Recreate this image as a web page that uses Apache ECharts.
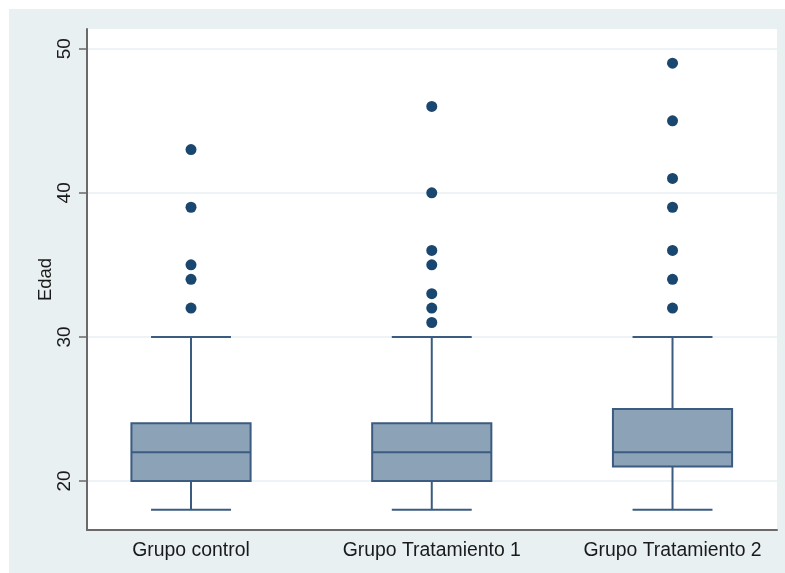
<!DOCTYPE html>
<html>
<head>
<meta charset="utf-8">
<script src="https://cdn.jsdelivr.net/npm/echarts@6/dist/echarts.min.js"></script>
<style>
  html, body { margin: 0; padding: 0; background: #ffffff; }
  #frame { position: absolute; left: 9px; top: 9px; right: 0; bottom: 0; background: #e8f0f2; }
  #chart { position: absolute; left: 0; top: 0; width: 785px; height: 573px; }
</style>
</head>
<body>
<div id="frame"></div>
<div id="chart"></div>
<script>
// Age (Edad) distribution per study group
const categories = ['Grupo control', 'Grupo Tratamiento 1', 'Grupo Tratamiento 2'];
// five-number summaries: [min whisker, Q1, median, Q3, max whisker]
const boxStats = [
  [18, 20, 22, 24, 30],
  [18, 20, 22, 24, 30],
  [18, 21, 22, 25, 30]
];
// points beyond the whiskers
const outliers = [
  [32, 34, 35, 39, 43],
  [31, 32, 33, 35, 36, 40, 46],
  [32, 34, 36, 39, 41, 45, 49]
];
const yTicks = [20, 30, 40, 50];

const navy = '#1a476f';
const boxLine = '#3b5c80';
const boxFill = '#8ca3b7';
const BOX_W = 0.495;   // box width in category units
const CAP_W = 0.332;   // whisker cap width in category units

const boxData = boxStats.map((s, i) => [i + 1, ...s]);
const outlierData = [];
outliers.forEach((arr, i) => arr.forEach(v => outlierData.push([i + 1, v])));

const chart = echarts.init(document.getElementById('chart'), null, { renderer: 'canvas' });

function renderBox(params, api) {
  const x = api.value(0);
  const lo = api.coord([x, api.value(1)]);
  const q1 = api.coord([x, api.value(2)]);
  const md = api.coord([x, api.value(3)]);
  const q3 = api.coord([x, api.value(4)]);
  const hi = api.coord([x, api.value(5)]);
  const halfBox = api.coord([x + BOX_W / 2, 0])[0] - lo[0];
  const halfCap = api.coord([x + CAP_W / 2, 0])[0] - lo[0];
  const cx = lo[0];
  const line = { stroke: boxLine, lineWidth: 2 };
  return {
    type: 'group',
    children: [
      { type: 'line', shape: { x1: cx, y1: q3[1], x2: cx, y2: hi[1] }, style: line },
      { type: 'line', shape: { x1: cx, y1: q1[1], x2: cx, y2: lo[1] }, style: line },
      { type: 'line', shape: { x1: cx - halfCap, y1: hi[1], x2: cx + halfCap, y2: hi[1] }, style: line },
      { type: 'line', shape: { x1: cx - halfCap, y1: lo[1], x2: cx + halfCap, y2: lo[1] }, style: line },
      { type: 'rect', shape: { x: cx - halfBox, y: q3[1], width: 2 * halfBox, height: q1[1] - q3[1] },
        style: { fill: boxFill, stroke: boxLine, lineWidth: 2 } },
      { type: 'line', shape: { x1: cx - halfBox, y1: md[1], x2: cx + halfBox, y2: md[1] }, style: line }
    ]
  };
}

chart.setOption({
  animation: false,
  grid: {
    left: 87, right: 8, top: 29, bottom: 43,
    show: true, backgroundColor: '#ffffff', borderWidth: 0
  },
  xAxis: {
    type: 'value',
    min: 0.568, max: 3.434,
    axisLine: { show: true, lineStyle: { color: '#6a6a6a', width: 2 } },
    axisTick: { show: false },
    splitLine: { show: false },
    axisLabel: {
      customValues: [1, 2, 3],
      formatter: v => categories[Math.round(v) - 1],
      color: '#1a1a1a',
      fontFamily: 'Liberation Sans, Arial, sans-serif',
      fontSize: 19.4,
      margin: 11
    }
  },
  yAxis: {
    type: 'value',
    min: 16.6, max: 51.37,
    splitNumber: 3,
    name: 'Edad',
    nameLocation: 'middle',
    nameRotate: 90,
    nameGap: 32,
    nameMoveOverlap: false,
    nameTextStyle: { color: '#1a1a1a', fontFamily: 'Liberation Sans, Arial, sans-serif', fontSize: 18.5 },
    axisLine: { show: true, lineStyle: { color: '#6a6a6a', width: 2 } },
    axisTick: { show: true, customValues: yTicks, length: 8, lineStyle: { color: '#6a6a6a', width: 1.5 } },
    splitLine: { show: true, lineStyle: { color: '#e8f0f2', width: 1.5 } },
    axisLabel: {
      customValues: yTicks,
      rotate: 90,
      color: '#1a1a1a',
      fontFamily: 'Liberation Sans, Arial, sans-serif',
      fontSize: 19,
      margin: 13
    }
  },
  series: [
    {
      type: 'custom',
      data: boxData,
      renderItem: renderBox,
      encode: { x: 0, y: [1, 2, 3, 4, 5] },
      z: 3
    },
    {
      type: 'scatter',
      data: outlierData,
      symbol: 'circle',
      symbolSize: 11,
      itemStyle: { color: navy, opacity: 1 },
      z: 4
    }
  ]
});
</script>
</body>
</html>
